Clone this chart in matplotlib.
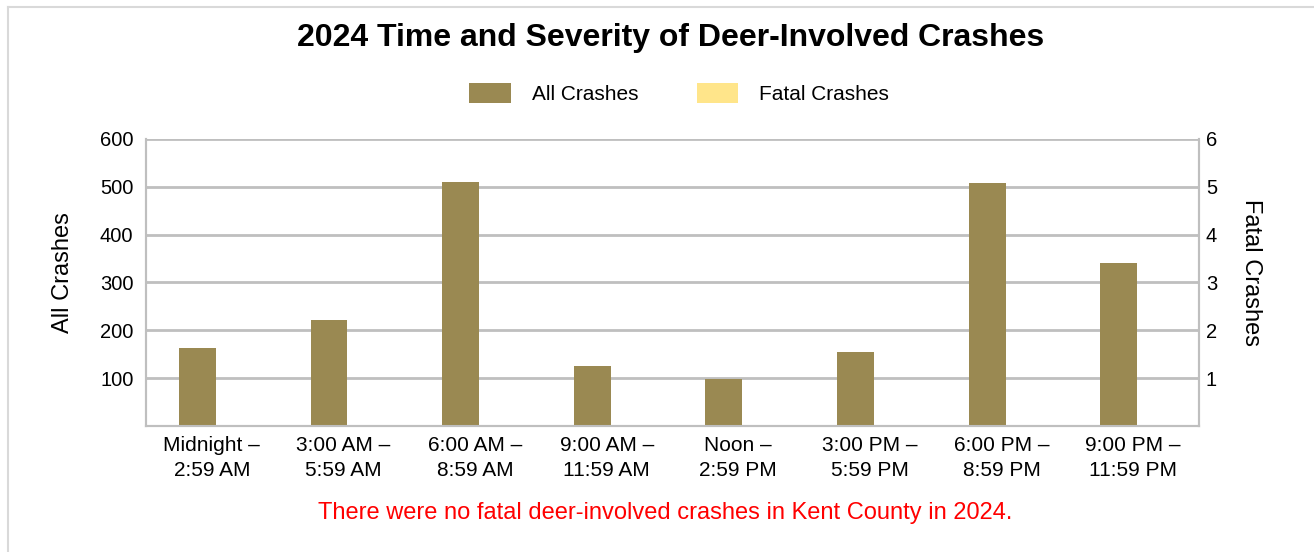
import matplotlib
matplotlib.use('Agg')
import numpy as np
import matplotlib.pyplot as plt
from matplotlib.patches import Patch
from matplotlib.lines import Line2D

plt.rcParams['font.family'] = ['Liberation Sans', 'DejaVu Sans']

# Data
periods = ['Midnight \u2013\n2:59 AM', '3:00 AM \u2013\n5:59 AM', '6:00 AM \u2013\n8:59 AM',
           '9:00 AM \u2013\n11:59 AM', 'Noon \u2013\n2:59 PM', '3:00 PM \u2013\n5:59 PM',
           '6:00 PM \u2013\n8:59 PM', '9:00 PM \u2013\n11:59 PM']
all_crashes = [164, 221, 510, 125, 98, 154, 508, 340]
fatal_crashes = [0, 0, 0, 0, 0, 0, 0, 0]
left_ticks = [100, 200, 300, 400, 500, 600]
right_ticks = [1, 2, 3, 4, 5, 6]

all_color = '#9A8952'
fatal_color = '#FFE58A'
grid_color = '#BFBFBF'

fig = plt.figure(figsize=(13.14, 5.52), dpi=100)
ax = fig.add_axes([0.1111, 0.2283, 0.8014, 0.5199])
ax2 = ax.twinx()

x = np.arange(len(periods))
w = 0.28
ax.bar(x - w / 2 + 0.03, all_crashes, width=w, color=all_color, zorder=3)
ax2.bar(x + w / 2 + 0.03, fatal_crashes, width=w, color=fatal_color, zorder=3)

ax.set_xlim(-0.5, len(periods) - 0.5)
ax.set_ylim(0, 600)
ax2.set_ylim(0, 6)
ax.set_yticks(left_ticks)
ax2.set_yticks(right_ticks)
ax.set_xticks(x)
ax.set_xticklabels(periods, fontsize=15, linespacing=1.45)
ax.tick_params(axis='both', length=0, labelsize=14.5)
ax.tick_params(axis='x', labelsize=15, pad=7)
ax2.tick_params(axis='y', length=0, labelsize=14.5, pad=5)
ax.tick_params(axis='y', pad=9)

ax.grid(axis='y', color=grid_color, linewidth=2, zorder=0)
ax.set_axisbelow(True)
for a in (ax, ax2):
    for s in a.spines.values():
        s.set_color(grid_color)
        s.set_linewidth(1.5)
    a.spines['top'].set_visible(False)

fig.text(0.048, 0.507, 'All Crashes', rotation=90, fontsize=17, ha='center', va='center')
fig.text(0.952, 0.507, 'Fatal Crashes', rotation=-90, fontsize=17, ha='center', va='center')

fig.text(0.5106, 0.932, '2024 Time and Severity of Deer-Involved Crashes',
         fontsize=23, fontweight='bold', ha='center', va='center')

handles = [Patch(facecolor=all_color), Patch(facecolor=fatal_color)]
fig.legend(handles, ['All Crashes', 'Fatal Crashes'], loc='center',
           bbox_to_anchor=(0.517, 0.83), ncol=2, frameon=False, fontsize=15,
           handlelength=2.0, handleheight=1.1, handletextpad=1.0, columnspacing=2.8)

fig.text(0.506, 0.07, 'There were no fatal deer-involved crashes in Kent County in 2024.',
         fontsize=17, color='#FF0000', ha='center', va='center')

# light frame around the chart
fig.add_artist(Line2D([0.006, 0.006], [0.0, 0.987], color='#D9D9D9', linewidth=1.5))
fig.add_artist(Line2D([0.006, 1.0], [0.987, 0.987], color='#D9D9D9', linewidth=1.5))

fig.savefig('out.png', dpi=100, facecolor='white')
